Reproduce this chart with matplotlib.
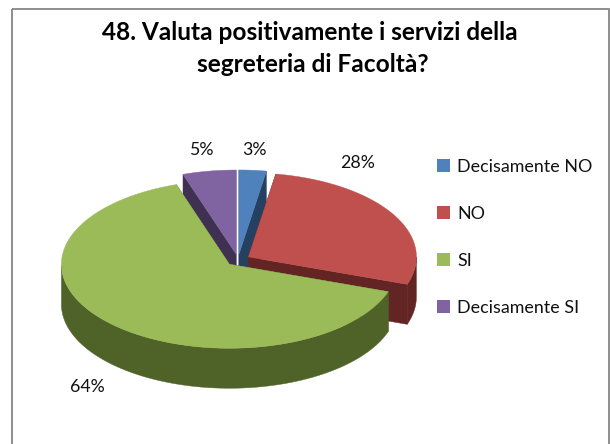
import numpy as np
import matplotlib
matplotlib.use("Agg")
import matplotlib.pyplot as plt
from matplotlib.patches import Polygon, Rectangle, Patch

categories = ["Decisamente NO", "NO", "SI", "Decisamente SI"]
values = [2.6, 27.6, 64.4, 5.1]
pct_labels = ["3%", "28%", "64%", "5%"]
top_colors = ["#4F81BD", "#C0504D", "#9BBB59", "#8064A2"]
side_colors = ["#254061", "#632523", "#4F6228", "#403152"]
label_pos = [(254, 150), (358, 163), (87, 387), (201, 150)]

plt.rcParams["font.family"] = ["Lato", "DejaVu Sans"]
fig = plt.figure(figsize=(6.10, 4.44), dpi=100)
ax = fig.add_axes([0, 0, 1, 1])
ax.set_xlim(0, 610)
ax.set_ylim(444, 0)
ax.axis("off")

ax.add_patch(Rectangle((11.5, 9.5), 597, 470, fill=False, ec="#868686", lw=1.3))

CX, CY, RX, RY, DEPTH, EXPLODE = 238, 260, 168, 84, 40, 0.072

edges = np.radians(np.concatenate([[0], np.cumsum(values)]) / sum(values) * 360)
draw_order = [0, 3, 1, 2]
for i in draw_order:
    a, b = edges[i], edges[i + 1]
    mid = (a + b) / 2
    ox = CX + EXPLODE * RX * np.sin(mid)
    oy = CY - EXPLODE * RY * np.cos(mid)
    arc = np.linspace(a, b, 200)
    ax_x = ox + RX * np.sin(arc)
    ax_y = oy - RY * np.cos(arc)
    # radial walls
    for t in (a, b):
        ex, ey = ox + RX * np.sin(t), oy - RY * np.cos(t)
        ax.add_patch(Polygon([(ox, oy), (ex, ey), (ex, ey + DEPTH), (ox, oy + DEPTH)],
                             fc=side_colors[i], ec=side_colors[i], lw=0.3))
    # outer wall, front half only
    front = np.cos(arc) <= 0
    if front.any():
        fx, fy = ax_x[front], ax_y[front]
        wall = np.column_stack([np.r_[fx, fx[::-1]], np.r_[fy, fy[::-1] + DEPTH]])
        ax.add_patch(Polygon(wall, fc=side_colors[i], ec=side_colors[i], lw=0.3))
    # top face
    top = np.column_stack([np.r_[ox, ax_x], np.r_[oy, ax_y]])
    ax.add_patch(Polygon(top, fc=top_colors[i], ec=top_colors[i], lw=0.3))

for s, (x, y) in zip(pct_labels, label_pos):
    ax.text(x, y, s, ha="center", va="center", fontsize=12.8, color="#111111")

ax.text(310, 33, "48. Valuta positivamente i servizi della", ha="center", va="center",
        fontsize=17.6, fontweight="bold", color="black")
ax.text(313, 64, "segreteria di Facoltà?", ha="center", va="center",
        fontsize=17.6, fontweight="bold", color="black")

handles = [Patch(fc=c, ec="none") for c in top_colors]
FS = 12.9
leg = ax.legend(handles, categories, loc="upper left", bbox_to_anchor=(432 / 610, 1 - 153.5 / 444),
                bbox_transform=fig.transFigure, frameon=False, fontsize=FS,
                handlelength=9.4 / FS, handleheight=9.4 / FS, handletextpad=0.38,
                labelspacing=1.726, borderpad=0.3, borderaxespad=0, labelcolor="#111111")

fig.savefig("out.png", dpi=100)
